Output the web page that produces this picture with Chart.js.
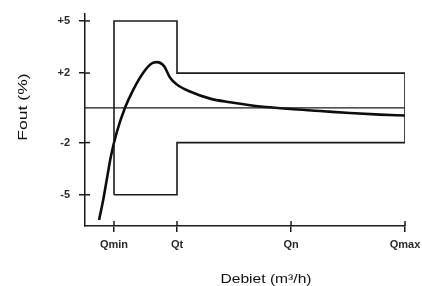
<!DOCTYPE html>
<html>
<head>
<meta charset="utf-8">
<script src="https://cdn.jsdelivr.net/npm/chart.js@4/dist/chart.umd.min.js"></script>
<style>
  html, body { margin: 0; padding: 0; background: #fff; }
  #wrap { width: 422px; height: 286px; position: relative; }
</style>
</head>
<body>
<div id="wrap"><canvas id="errChart"></canvas></div>
<script>
// Meter error curve vs. flow (Qmin .. Qmax), with tolerance envelope
const flowLabels = ['Qmin', 'Qt', 'Qn', 'Qmax'];
const flowValues = [0.906, 2.875, 6.44, 10];   // relative flow positions
const errTicks   = [5, 2, -2, -5];
const upperLimit = [5, 2];    // % error, low zone (Qmin-Qt) / high zone (Qt-Qmax)
const lowerLimit = [-5, -2];

const curveX = [0.44, 0.57, 0.68, 0.81, 0.99, 1.25, 1.51, 1.82, 2.08, 2.24, 2.47, 2.66,
                2.87, 3.28, 3.91, 4.53, 5.16, 5.78, 6.41, 7.34, 8.28, 9.22, 10];
const curveY = [-6.45, -5.29, -4.13, -2.79, -1.42, 0.0, 1.05, 2.02, 2.55, 2.63, 2.40, 1.73,
                1.34, 0.94, 0.53, 0.32, 0.15, 0.03, -0.07, -0.18, -0.30, -0.39, -0.44];

const INK = '#1b1b1b';

(function(){
  'use strict';

  const qMin = flowValues[0], qT = flowValues[1], qMax = flowValues[3];

  // closed tolerance envelope
  const envelope = [
    {x:qMin, y:lowerLimit[0]}, {x:qMin, y:upperLimit[0]}, {x:qT, y:upperLimit[0]},
    {x:qT, y:upperLimit[1]}, {x:qMax, y:upperLimit[1]}, {x:qMax, y:lowerLimit[1]},
    {x:qT, y:lowerLimit[1]}, {x:qT, y:lowerLimit[0]}, {x:qMin, y:lowerLimit[0]}
  ];
  const zeroLine = [{x:0, y:0}, {x:qMax, y:0}];
  const curve = curveX.map((x,i) => ({x:x, y:curveY[i]}));

  // tick crosses reach into the plot a bit + axis titles
  const decor = {
    id: 'decor',
    afterDraw(chart){
      const ctx = chart.ctx, xs = chart.scales.x, ys = chart.scales.y;
      ctx.save();
      ctx.strokeStyle = INK; ctx.lineWidth = 1.5;
      ys.ticks.forEach(t => {
        const y = ys.getPixelForValue(t.value);
        ctx.beginPath(); ctx.moveTo(xs.left, y); ctx.lineTo(xs.left + 5, y); ctx.stroke();
      });
      xs.ticks.forEach(t => {
        const x = xs.getPixelForValue(t.value);
        ctx.beginPath(); ctx.moveTo(x, ys.bottom); ctx.lineTo(x, ys.bottom - 5); ctx.stroke();
      });

      ctx.fillStyle = '#111';
      ctx.font = '13px "Liberation Sans", Arial, sans-serif';
      ctx.textAlign = 'center'; ctx.textBaseline = 'middle';
      // x title
      ctx.save();
      ctx.translate(266, 279); ctx.scale(1.2, 1);
      ctx.fillText('Debiet (m³/h)', 0, 0);
      ctx.restore();
      // y title
      ctx.save();
      ctx.translate(23, 107); ctx.rotate(-Math.PI/2); ctx.scale(1.35, 1);
      ctx.fillText('Fout (%)', 0, 0);
      ctx.restore();
      ctx.restore();
    }
  };

  const tickFont = { family: '"Liberation Sans", Arial, sans-serif', size: 11, weight: 'bold' };

  new Chart(document.getElementById('errChart'), {
    type: 'line',
    data: {
      datasets: [
        { data: envelope, borderColor: INK, borderWidth: 1.6, pointRadius: 0, tension: 0 },
        { data: zeroLine, borderColor: INK, borderWidth: 1.4, pointRadius: 0, tension: 0 },
        { data: curve, borderColor: '#0d0d0d', borderWidth: 2.6, pointRadius: 0,
          cubicInterpolationMode: 'monotone' }
      ]
    },
    options: {
      responsive: true, maintainAspectRatio: false, animation: false,
      layout: { padding: { top: 14, right: 17, bottom: 0, left: 0 } },
      plugins: { legend: { display: false }, tooltip: { enabled: false } },
      scales: {
        x: {
          type: 'linear', min: 0, max: qMax,
          afterBuildTicks: s => { s.ticks = flowValues.map(v => ({value: v})); },
          afterFit: s => { s.height = 60; s.paddingLeft = 0; s.paddingRight = 0; },
          ticks: {
            autoSkip: false, maxRotation: 0, padding: 6, color: '#2a2a2a', font: tickFont,
            callback: v => flowLabels[flowValues.indexOf(v)]
          },
          grid: { drawOnChartArea: false, tickLength: 6, color: INK, lineWidth: 1.5 },
          border: { color: INK, width: 1.5 }
        },
        y: {
          type: 'linear', min: -6.8, max: 5.4,
          afterBuildTicks: s => { s.ticks = errTicks.map(v => ({value: v})); },
          afterFit: s => { s.width = 85; s.paddingTop = 0; s.paddingBottom = 0; },
          ticks: {
            padding: 9, color: '#2a2a2a', font: tickFont,
            callback: v => (v > 0 ? '+' : '') + v
          },
          grid: { drawOnChartArea: false, tickLength: 6, color: INK, lineWidth: 1.5 },
          border: { color: INK, width: 1.5 }
        }
      }
    },
    plugins: [decor]
  });
})();
</script>
</body>
</html>
